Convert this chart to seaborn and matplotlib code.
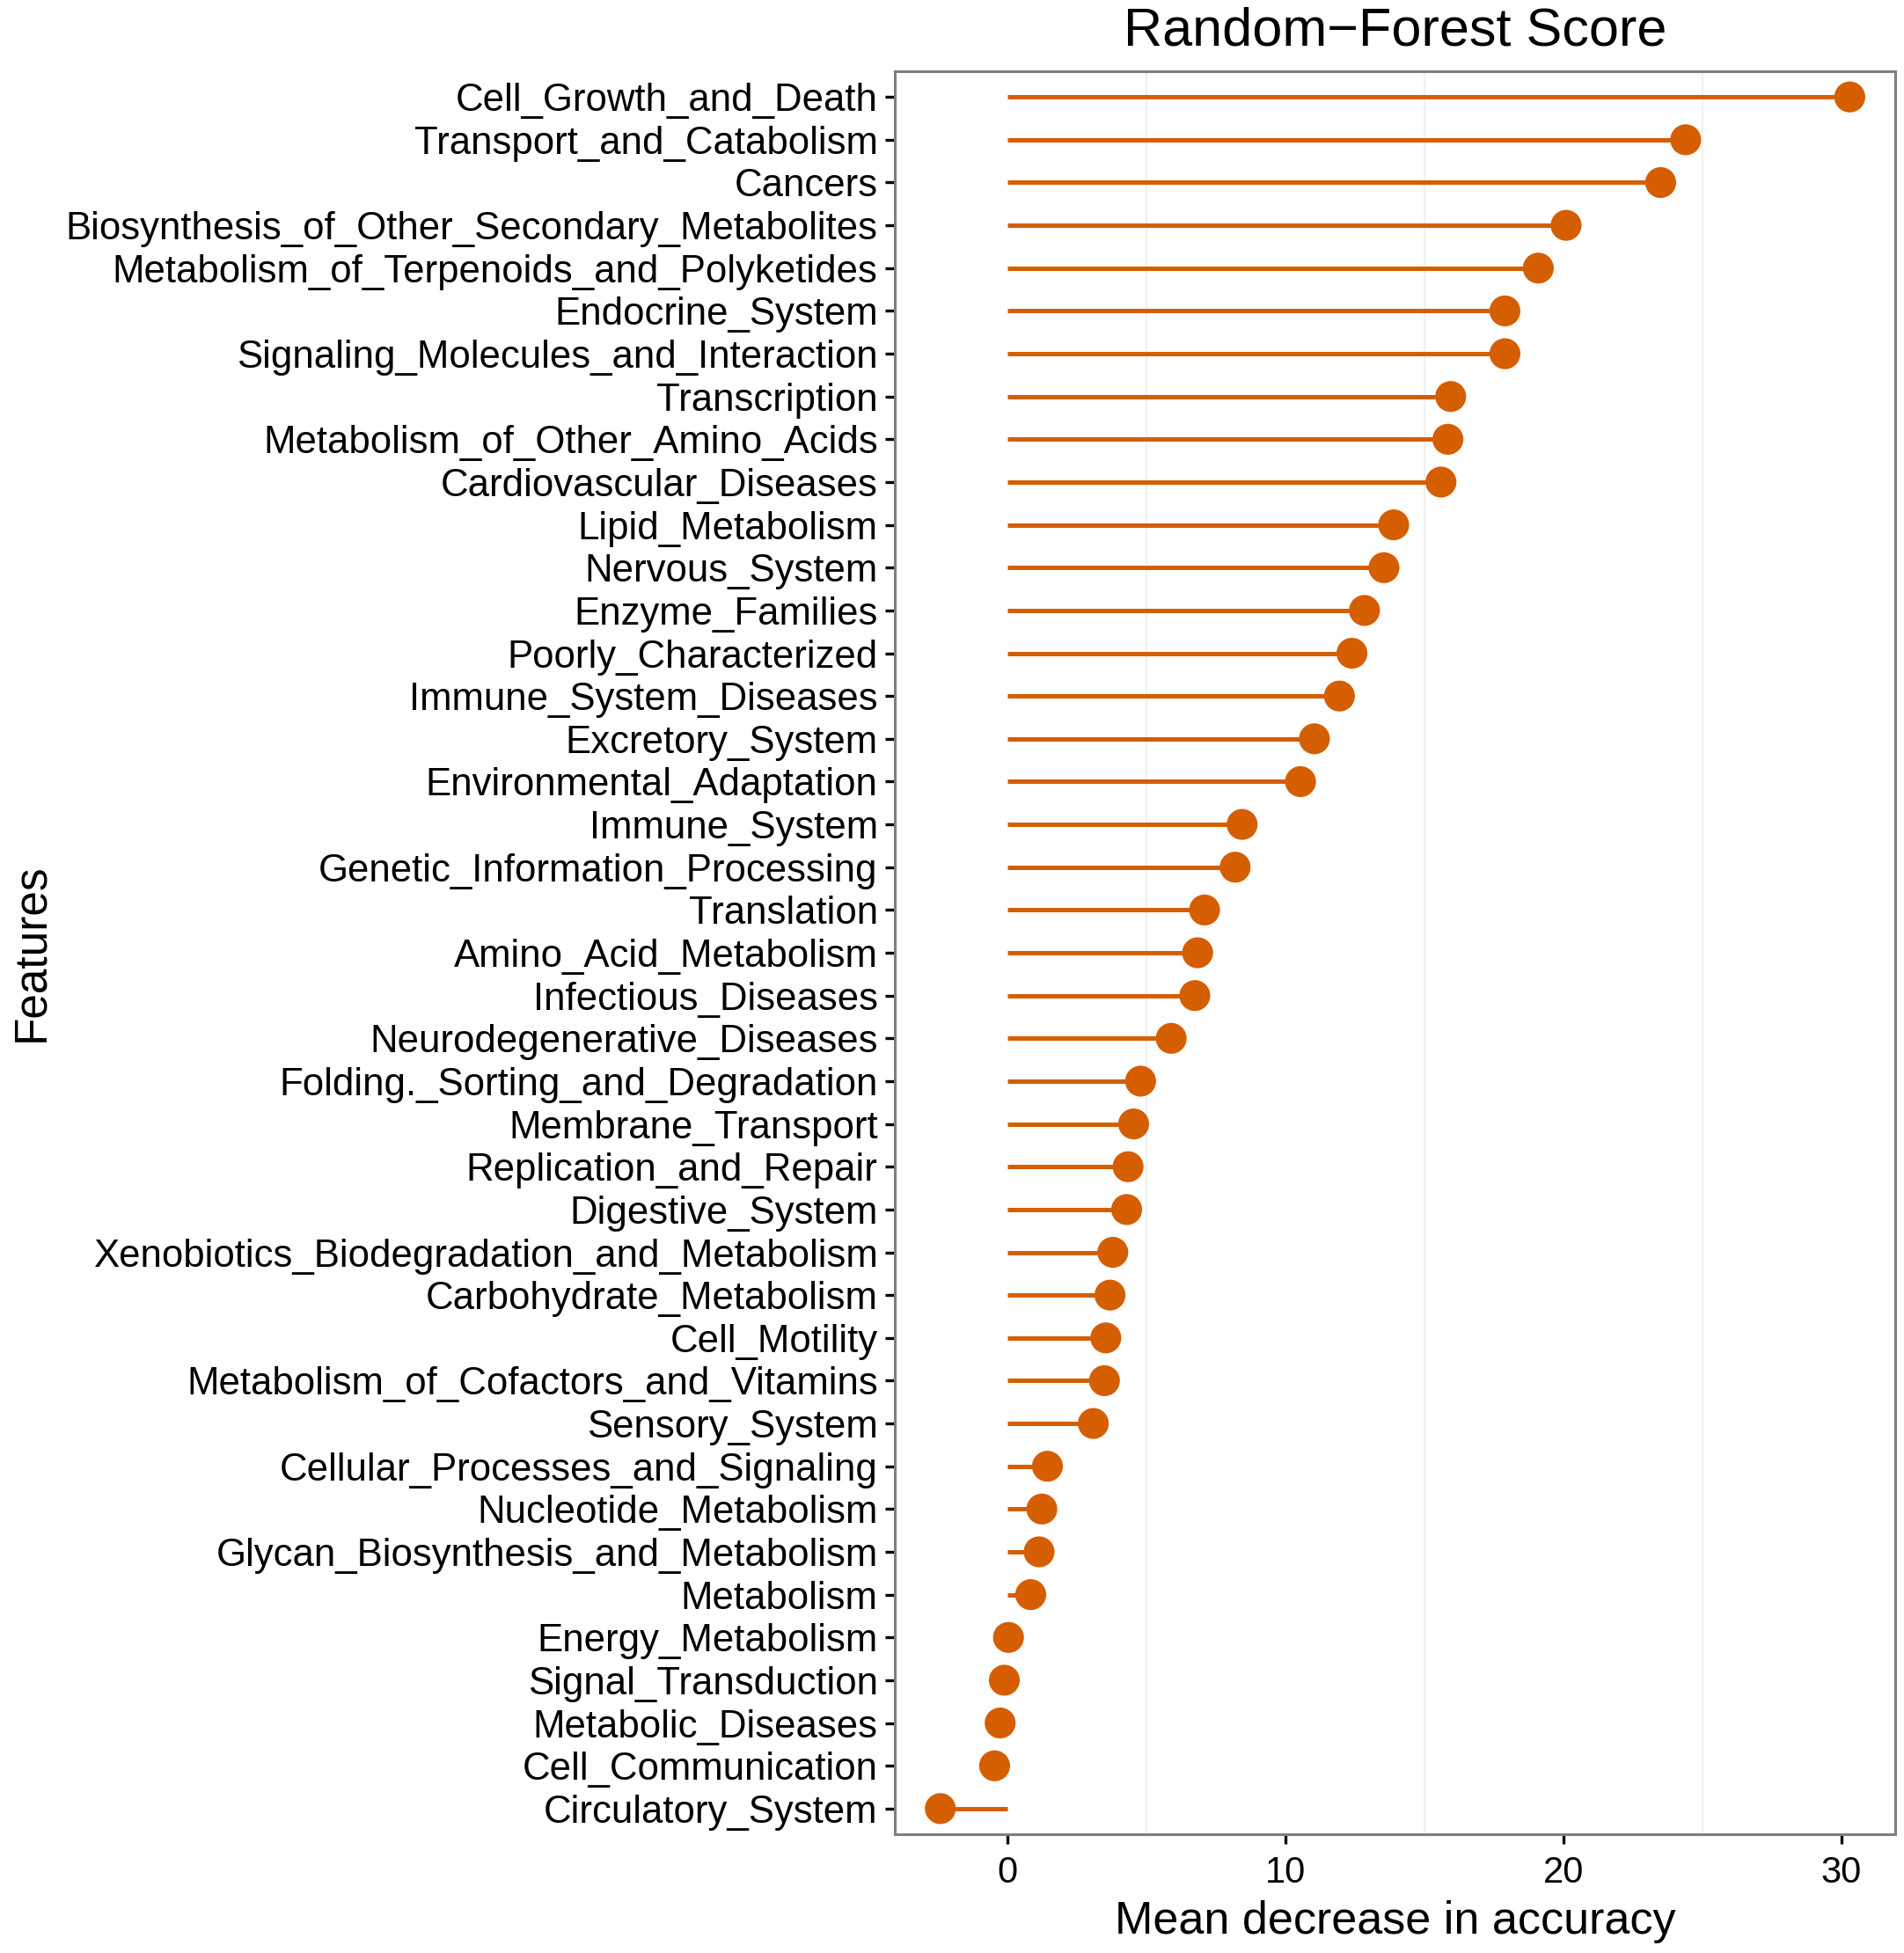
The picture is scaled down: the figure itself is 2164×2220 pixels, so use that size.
import matplotlib
matplotlib.use("Agg")
import matplotlib.pyplot as plt
import seaborn as sns
import pandas as pd

features = [
    "Cell_Growth_and_Death", "Transport_and_Catabolism", "Cancers",
    "Biosynthesis_of_Other_Secondary_Metabolites", "Metabolism_of_Terpenoids_and_Polyketides",
    "Endocrine_System", "Signaling_Molecules_and_Interaction", "Transcription",
    "Metabolism_of_Other_Amino_Acids", "Cardiovascular_Diseases", "Lipid_Metabolism",
    "Nervous_System", "Enzyme_Families", "Poorly_Characterized", "Immune_System_Diseases",
    "Excretory_System", "Environmental_Adaptation", "Immune_System",
    "Genetic_Information_Processing", "Translation", "Amino_Acid_Metabolism",
    "Infectious_Diseases", "Neurodegenerative_Diseases", "Folding._Sorting_and_Degradation",
    "Membrane_Transport", "Replication_and_Repair", "Digestive_System",
    "Xenobiotics_Biodegradation_and_Metabolism", "Carbohydrate_Metabolism", "Cell_Motility",
    "Metabolism_of_Cofactors_and_Vitamins", "Sensory_System",
    "Cellular_Processes_and_Signaling", "Nucleotide_Metabolism",
    "Glycan_Biosynthesis_and_Metabolism", "Metabolism", "Energy_Metabolism",
    "Signal_Transduction", "Metabolic_Diseases", "Cell_Communication", "Circulatory_System",
]
scores = [
    30.3, 24.4, 23.5, 20.1, 19.1, 17.9, 17.9, 15.95, 15.85, 15.6, 13.9,
    13.55, 12.85, 12.4, 11.95, 11.05, 10.55, 8.45, 8.2, 7.1, 6.85,
    6.75, 5.9, 4.8, 4.55, 4.35, 4.3, 3.8, 3.7, 3.55, 3.5, 3.1,
    1.45, 1.25, 1.15, 0.85, 0.05, -0.1, -0.25, -0.45, -2.4,
]
x_ticks = [0, 10, 20, 30]
minor_grid = [5, 15, 25]

df = pd.DataFrame({"feature": features, "score": scores})

sns.set_theme(style="white")
plt.rcParams["font.family"] = ["Liberation Sans", "DejaVu Sans"]

color = "#D55E00"
fig = plt.figure(figsize=(21.64, 22.2), dpi=100)
ax = fig.add_axes([0.470, 0.0608, 0.9954 - 0.470, 0.9635 - 0.0608])

for g in minor_grid:
    ax.axvline(g, color="#F0F0F0", lw=1.5, zorder=0)

sns.scatterplot(data=df, x="score", y="feature", ax=ax, color=color, s=640,
                edgecolor="none", linewidth=0, zorder=3, legend=False)
ax.hlines(y=df["feature"], xmin=0, xmax=df["score"], color=color, lw=3.6, zorder=2)

n = len(features)
ax.set_ylim(n - 1 + 0.6, -0.6)
rng = max(scores) - min(scores)
ax.set_xlim(min(scores) - 0.05 * rng, max(scores) + 0.05 * rng)
ax.set_xticks(x_ticks)
ax.set_xticklabels([str(t) for t in x_ticks])

for sp in ax.spines.values():
    sp.set_visible(True)
    sp.set_color("#7F7F7F")
    sp.set_linewidth(2.2)

ax.tick_params(axis="both", which="major", length=8, width=2.4, color="black",
               direction="out", labelcolor="black", bottom=True, left=True)
ax.tick_params(axis="x", labelsize=30, pad=9)
ax.tick_params(axis="y", labelsize=31.5, pad=6)

ax.set_title("Random\u2212Forest Score", fontsize=44, pad=21, color="black")
ax.set_xlabel("Mean decrease in accuracy", fontsize=37.5, labelpad=8, color="black")
ax.set_ylabel("Features", fontsize=37, labelpad=10, color="black")

fig.savefig("out.png", dpi=100, facecolor="white")
